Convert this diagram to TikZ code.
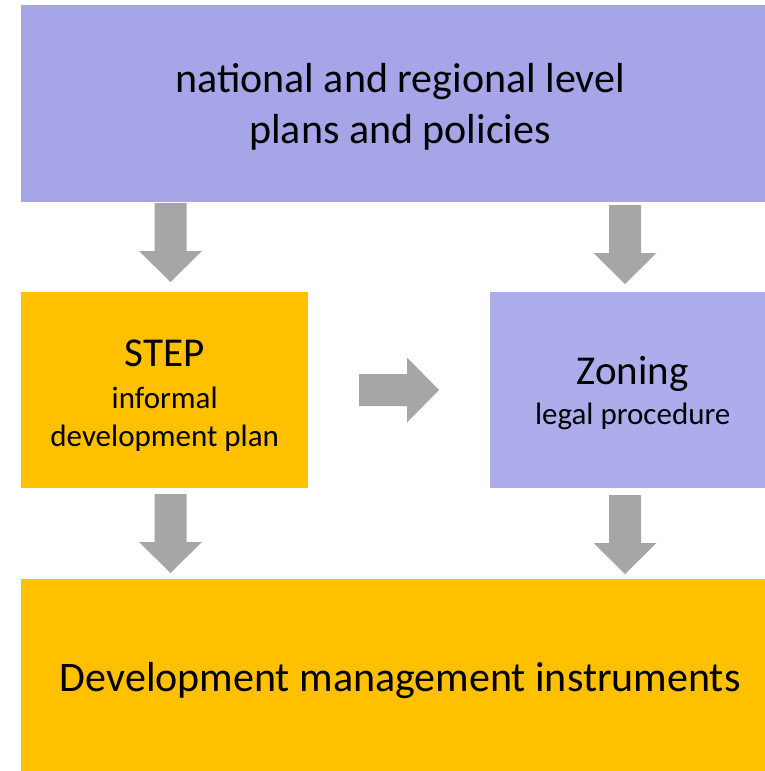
\documentclass[tikz,border=0pt]{standalone}
\usepackage{fontspec}
\setmainfont{Carlito}
\usetikzlibrary{calc}
\definecolor{topblue}{RGB}{165,165,232}
\definecolor{zoneblue}{RGB}{173,173,236}
\definecolor{gold}{RGB}{255,192,0}
\definecolor{arrowgray}{RGB}{166,166,166}
\tikzset{
  box/.style={inner sep=0pt, anchor=north west, draw=none},
  txt/.style={inner sep=0pt, align=center},
  bigtext/.style={font=\fontsize{42}{51}\selectfont},
  midtext/.style={font=\fontsize{31}{38}\selectfont},
  downarrow/.pic={\fill[arrowgray] (-16,0) -- (16,0) -- (16,48) -- (31.5,48) -- (0,79) -- (-31.5,48) -- (-16,48) -- cycle;},
  rightarrow/.pic={\fill[arrowgray] (0,-16) -- (48,-16) -- (48,-32.5) -- (80,0) -- (48,32.5) -- (48,16) -- (0,16) -- cycle;}
}
\begin{document}
\begin{tikzpicture}[x=1pt,y=-1pt]
\clip (0,0) rectangle (765,771);
\fill[white] (0,0) rectangle (765,771);
\node[box, fill=topblue, minimum width=758pt, minimum height=197pt] (top) at (21,5) {};
\node[box, fill=gold, minimum width=287pt, minimum height=196pt] (step) at (21,292) {};
\node[box, fill=zoneblue, minimum width=285pt, minimum height=196pt] (zoning) at (490,292) {};
\node[box, fill=gold, minimum width=758pt, minimum height=192pt] (dmi) at (21,579) {};
\node[txt, bigtext] (toptext) at ($(top.center)+(0,3)$) {national and regional level\\plans and policies};
\node[txt, midtext] (steptext) at ($(step.center)+(0,5)$)
  {{\fontsize{41}{41}\selectfont STEP}\\[4pt]informal\\development plan};
\node[txt, midtext] (zoningtext) at ($(zoning.center)+(0,3)$)
  {{\fontsize{41}{41}\selectfont Zoning}\\[2pt]legal procedure};
\node[txt, bigtext] (dmitext) at ($(dmi.center)+(0,5)$) {Development management instruments};
\pic (a1) at (170.5,203) {downarrow};
\pic (a2) at (625,205) {downarrow};
\pic (a3) at (170.5,494) {downarrow};
\pic (a4) at (625,495) {downarrow};
\pic (a5) at (359,390) {rightarrow};
\end{tikzpicture}
\end{document}
